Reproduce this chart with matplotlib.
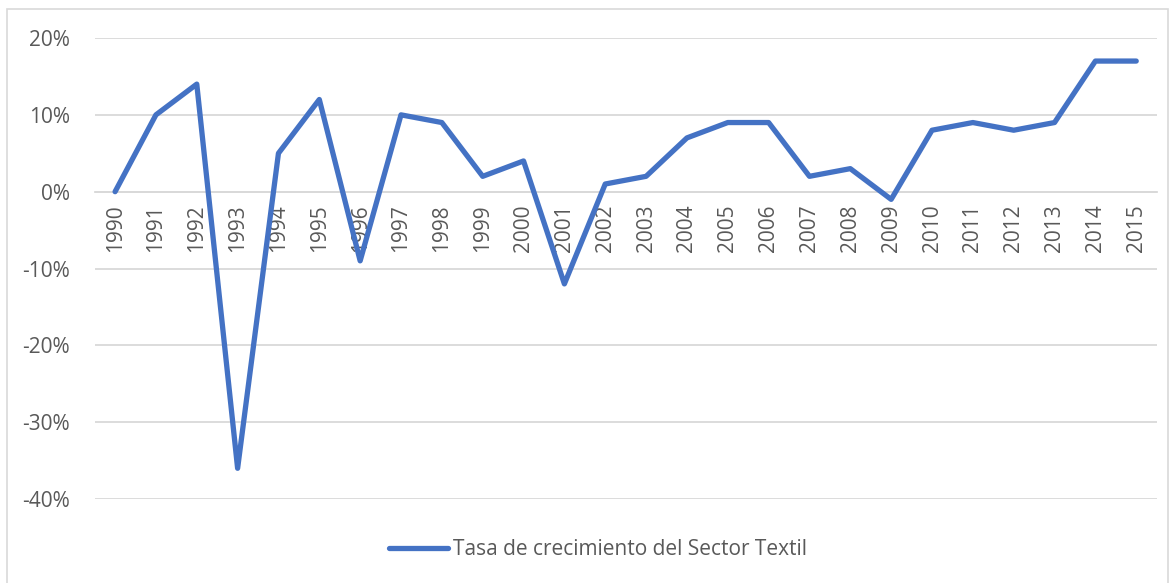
import matplotlib.pyplot as plt
from matplotlib.patches import Rectangle
from matplotlib.ticker import PercentFormatter

# datos (tasa de crecimiento, %)
years = [str(y) for y in range(1990, 2016)]
growth = [0, 10, 14, -36, 5, 12, -9, 10, 9, 2, 4, -12, 1, 2, 7, 9, 9, 2, 3, -1,
          8, 9, 8, 9, 17, 17]
series_name = 'Tasa de crecimiento del Sector Textil'

plt.rcParams['font.family'] = ['Open Sans', 'DejaVu Sans']
plt.rcParams['axes.unicode_minus'] = False
text_gray = '#595959'
grid_gray = '#d9d9d9'

fig = plt.figure(figsize=(11.7, 5.83), dpi=100)
ax = fig.add_axes([0.0809, 0.144, 0.9077, 0.7908])

# marco exterior del grafico
fig.patches.append(Rectangle((0.006, -0.01), 0.992, 0.995, transform=fig.transFigure,
                             fill=False, edgecolor=grid_gray, linewidth=1.2))

# eje x cruzando en 0 (antes de poner las etiquetas, set_position las reinicia)
for side in ['top', 'right', 'left']:
    ax.spines[side].set_visible(False)
ax.spines['bottom'].set_position(('data', 0))
ax.spines['bottom'].set_color(grid_gray)
ax.spines['bottom'].set_linewidth(1.3)

x = list(range(len(years)))
ax.plot(x, growth, color='#4472C4', linewidth=3.8, solid_capstyle='round',
        solid_joinstyle='round', label=series_name, zorder=3)

ax.set_xlim(-0.5, len(years) - 0.5)
ax.set_ylim(-40, 20)
ax.set_yticks(range(-40, 21, 10))
ax.yaxis.set_major_formatter(PercentFormatter(decimals=0))
ax.set_xticks(x)
ax.set_xticklabels(years)

ax.grid(axis='y', color=grid_gray, linewidth=1.3)
ax.set_axisbelow(True)

ax.tick_params(axis='y', length=0, pad=18, labelsize=15, labelcolor=text_gray)
ax.tick_params(axis='x', length=0, pad=9, labelsize=15, labelcolor=text_gray,
               labelrotation=90)

# leyenda centrada en el area del grafico completo
ax.legend(loc='center', bbox_to_anchor=(0.474, -0.11), frameon=False, fontsize=15,
          labelcolor=text_gray, handlelength=2.8, handletextpad=0.25)

plt.savefig('out.png', dpi=100)
